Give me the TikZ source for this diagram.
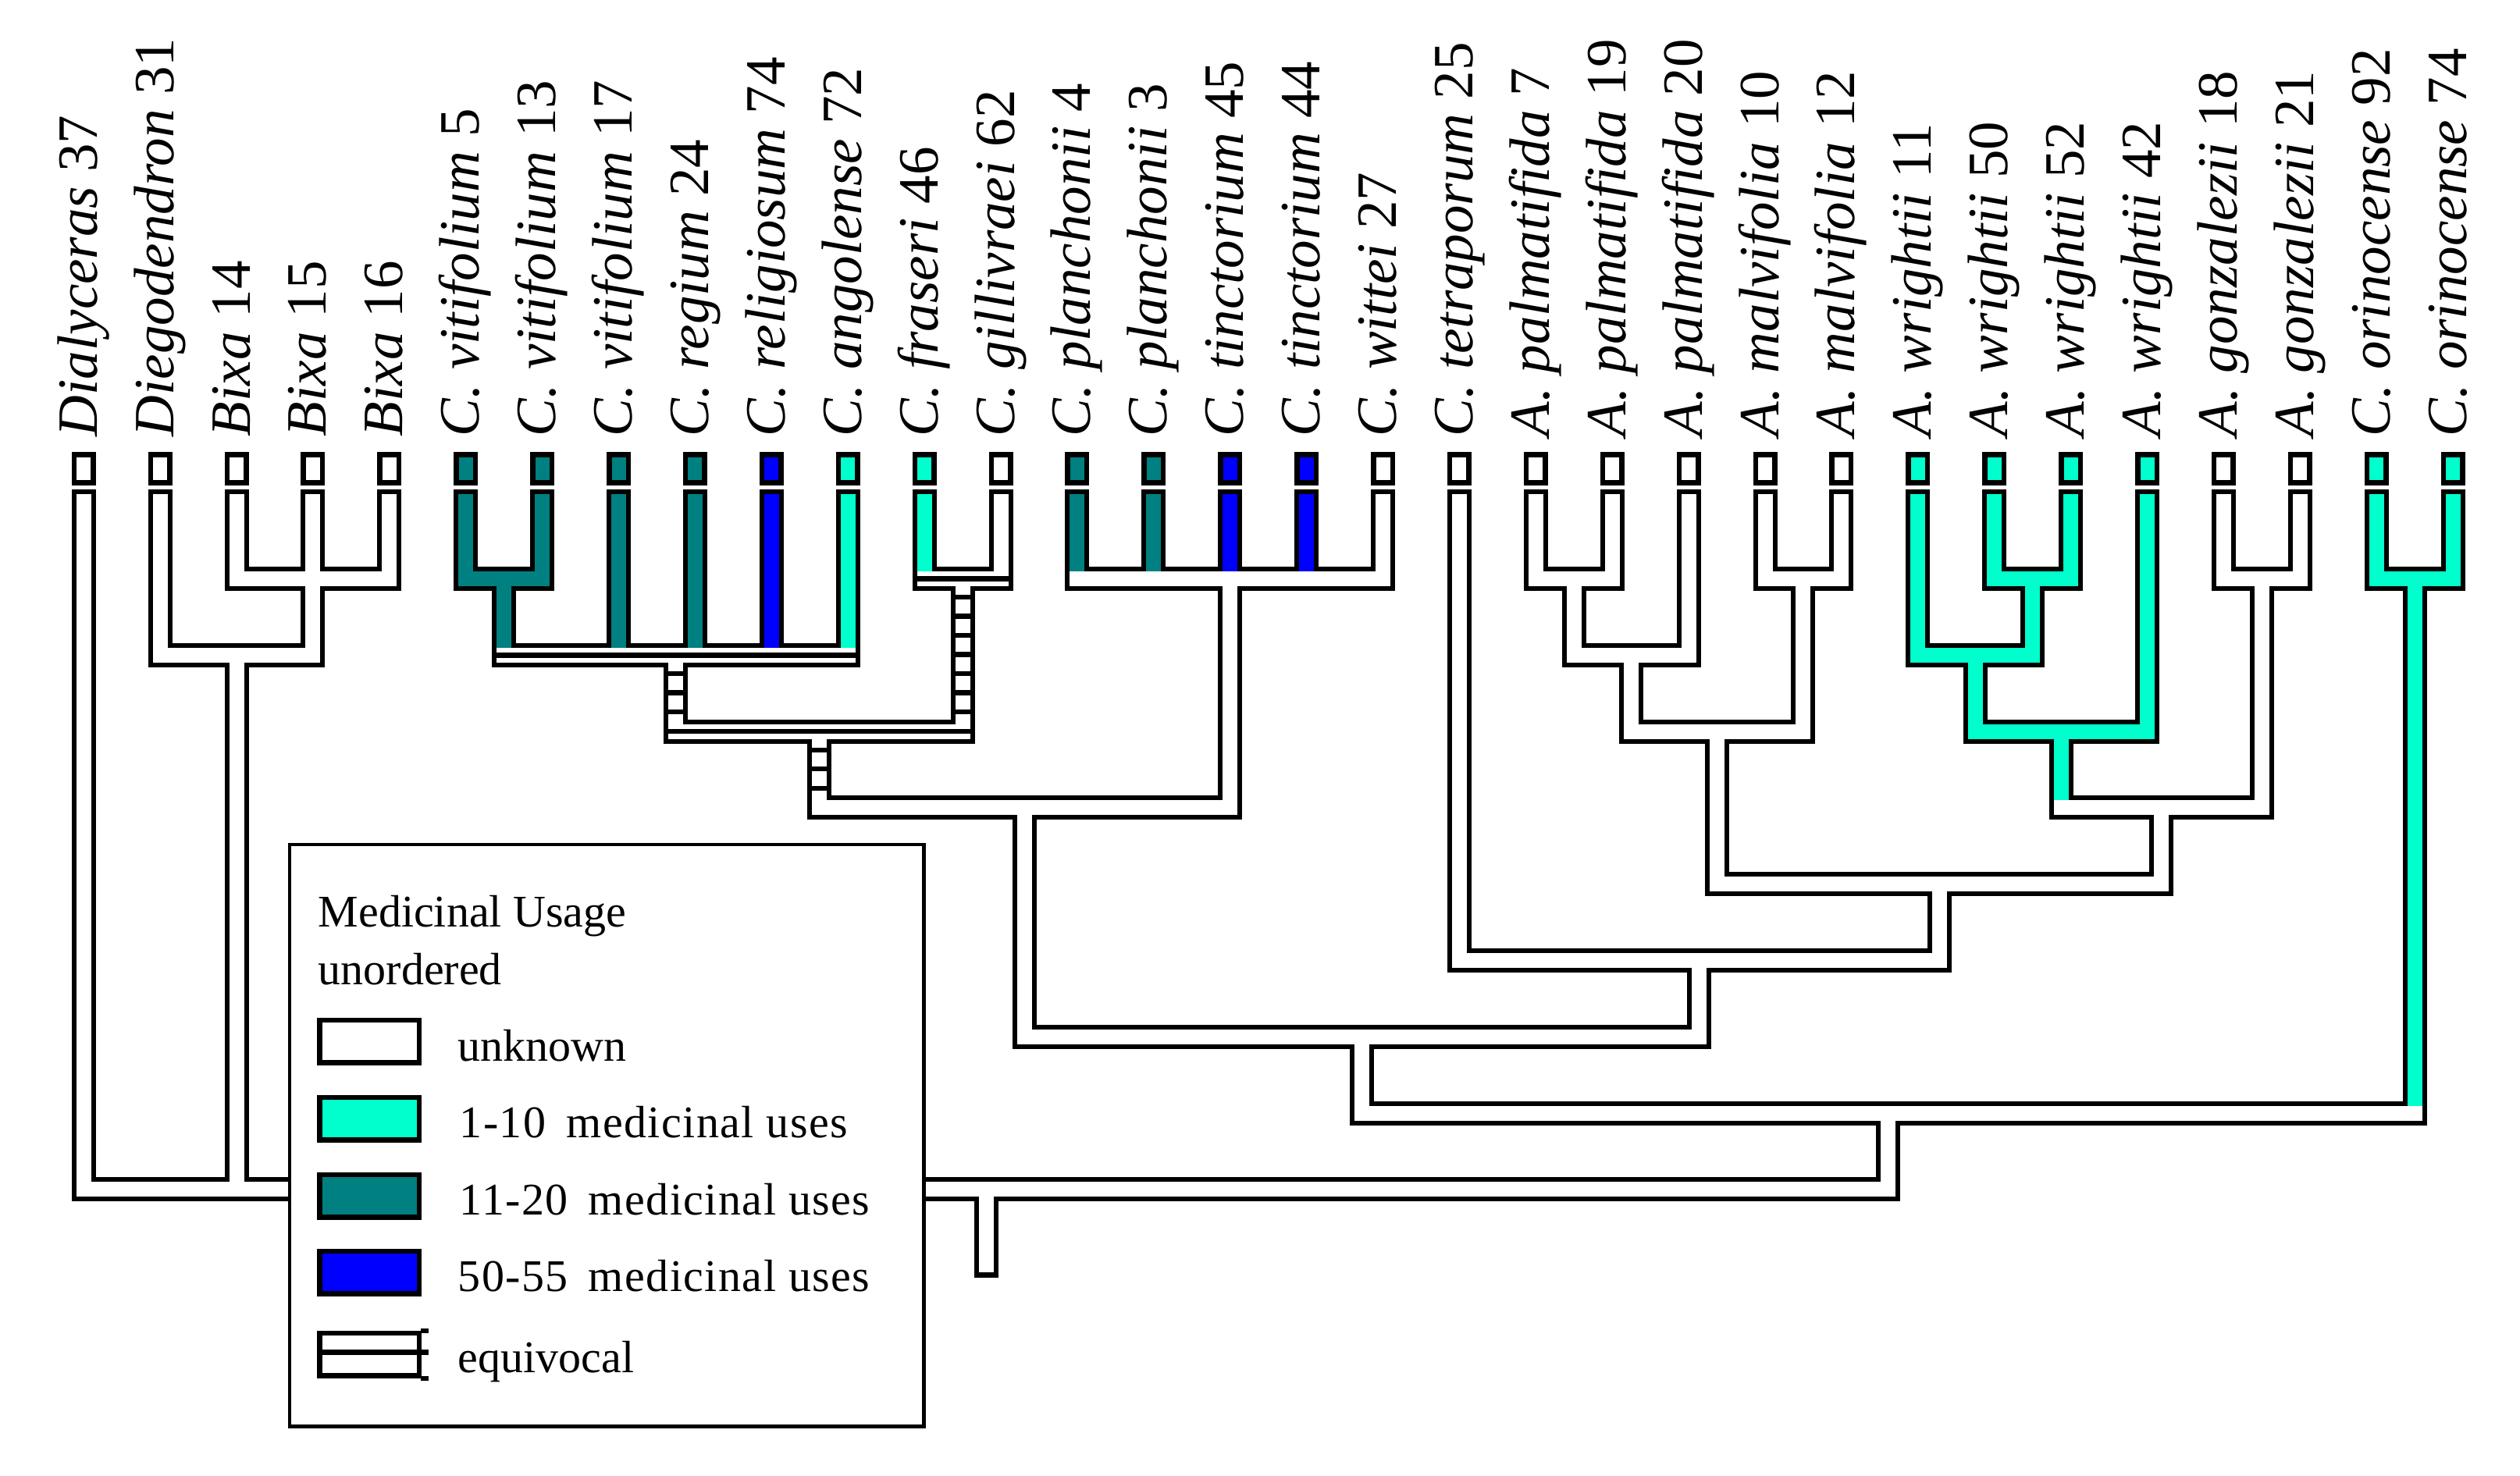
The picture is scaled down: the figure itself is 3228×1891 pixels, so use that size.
\documentclass[tikz,border=0pt]{standalone}
\usepackage{fontspec}
\setmainfont{Liberation Serif}
\newfontfamily\legspaced[LetterSpace=2.5]{Liberation Serif}
\usetikzlibrary{calc}
\definecolor{cyanx}{RGB}{0,255,204}
\definecolor{tealx}{RGB}{0,128,128}
\definecolor{bluex}{RGB}{0,0,255}
\begin{document}
\begin{tikzpicture}[x=0.25pt, y=-0.25pt,
  outv/.style={line width=7.75pt, line cap=butt, draw=black},
  outh/.style={line width=7.75pt, line cap=rect, draw=black},
  inv/.style={line width=4.75pt, line cap=butt},
  inh/.style={line width=4.75pt, line cap=rect},
  eqh/.style={line width=1.625pt, line cap=butt, draw=black},
  rungs/.style={line width=4.75pt, line cap=butt, draw=black, dash pattern=on 1.575pt off 4.55pt, dash phase=4.875pt},
  tipbox/.style={draw=black, line width=1.625pt, minimum width=6.125pt, minimum height=8.975pt, inner sep=0pt},
  taxon/.style={rotate=90, anchor=base west, inner sep=0pt, font=\fontsize{18.25}{20}\selectfont},
  legtext/.style={anchor=base west, inner sep=0pt, font=\fontsize{14.5}{17}\selectfont},
  swatch/.style={draw=black, line width=1.625pt, minimum width=31.875pt, minimum height=13.625pt, inner sep=0pt},
]
\useasboundingbox (0,0) rectangle (3228,1891);

% taxa: tip coordinates, tip boxes, labels
\foreach \i/\col/\nm/\nu in {
1/white/Dialyceras/37, 2/white/Diegodendron/31, 3/white/Bixa/14, 4/white/Bixa/15, 5/white/Bixa/16,
6/tealx/C. vitifolium/5, 7/tealx/C. vitifolium/13, 8/tealx/C. vitifolium/17, 9/tealx/C. regium/24,
10/bluex/C. religiosum/74, 11/cyanx/C. angolense/72, 12/cyanx/C. fraseri/46, 13/white/C. gillivraei/62,
14/tealx/C. planchonii/4, 15/tealx/C. planchonii/3, 16/bluex/C. tinctorium/45, 17/bluex/C. tinctorium/44,
18/white/C. wittei/27, 19/white/C. tetraporum/25, 20/white/A. palmatifida/7, 21/white/A. palmatifida/19,
22/white/A. palmatifida/20, 23/white/A. malvifolia/10, 24/white/A. malvifolia/12, 25/cyanx/A. wrightii/11,
26/cyanx/A. wrightii/50, 27/cyanx/A. wrightii/52, 28/cyanx/A. wrightii/42, 29/white/A. gonzalezii/18,
30/white/A. gonzalezii/21, 31/cyanx/C. orinocense/92, 32/cyanx/C. orinocense/74}
{
  \pgfmathsetmacro{\xx}{107.2+(\i-1)*97.9}
  \coordinate (t\i) at (\xx,626.7);
  \coordinate (ti\i) at (\xx,633);
  \node[tipbox, fill=\col] (b\i) at (\xx,600.5) {};
  \node[taxon] (l\i) at (\xx+17,560) {\textit{\nm} \nu};
}

% internal nodes (bar centres)
\coordinate (Bixa)  at (400.9,741.5);
\coordinate (DB)    at (303.0,839.3);
\coordinate (V513)  at (645.65,741.5);
\coordinate (Vpoly) at (865.93,839.3);
\coordinate (FG)    at (1233.05,741.5);
\coordinate (VFG)   at (1049.49,937.1);
\coordinate (P)     at (1575.7,741.5);
\coordinate (Cochlo) at (1312.6,1034.9);
\coordinate (P719)  at (2016.25,741.5);
\coordinate (Palm)  at (2089.68,839.3);
\coordinate (Malv)  at (2309.95,741.5);
\coordinate (PM)    at (2199.81,937.1);
\coordinate (W5052) at (2603.65,741.5);
\coordinate (W)     at (2530.23,839.3);
\coordinate (W42)   at (2640.36,937.1);
\coordinate (Gonz)  at (2897.35,741.5);
\coordinate (WG)    at (2768.86,1034.9);
\coordinate (Amor)  at (2484.33,1132.7);
\coordinate (TA)    at (2176.87,1230.5);
\coordinate (CA)    at (1744.73,1328.3);
\coordinate (Orin)  at (3093.15,741.5);
\coordinate (Big)   at (2418.94,1426.1);
\coordinate (Root)  at (1263.07,1523.9);
\coordinate (stub)  at (1263.07,1636.7);

% ---- black outer walls ----
\foreach \c/\p in {t1/Root,t2/DB,t3/Bixa,t4/Bixa,t5/Bixa,t6/V513,t7/V513,t8/Vpoly,t9/Vpoly,t10/Vpoly,t11/Vpoly,
  t12/FG,t13/FG,t14/P,t15/P,t16/P,t17/P,t18/P,t19/TA,t20/P719,t21/P719,t22/Palm,t23/Malv,t24/Malv,
  t25/W,t26/W5052,t27/W5052,t28/W42,t29/Gonz,t30/Gonz,t31/Orin,t32/Orin,
  Bixa/DB,DB/Root,V513/Vpoly,Vpoly/VFG,FG/VFG,VFG/Cochlo,P/Cochlo,Cochlo/CA,P719/Palm,Palm/PM,Malv/PM,
  PM/Amor,W5052/W,W/W42,W42/WG,Gonz/WG,WG/Amor,Amor/TA,TA/CA,CA/Big,Orin/Big,Big/Root}
  \draw[outv] (\c) -- (\c |- \p);
\draw[outv] (Root) -- (stub);
\foreach \n/\l/\r in {Bixa/t3/t5,DB/t2/Bixa,V513/t6/t7,Vpoly/V513/t11,FG/t12/t13,VFG/Vpoly/FG,P/t14/t18,
  Cochlo/VFG/P,P719/t20/t21,Palm/P719/t22,Malv/t23/t24,PM/Palm/Malv,W5052/t26/t27,W/t25/W5052,W42/W/t28,
  Gonz/t29/t30,WG/W42/Gonz,Amor/PM/WG,TA/t19/Amor,CA/Cochlo/TA,Orin/t31/t32,Big/CA/Orin,Root/t1/Big}
  \draw[outh] (\l |- \n) -- (\r |- \n);

% ---- inner fills: verticals ----
\foreach \c/\p/\col in {ti1/Root/white,ti2/DB/white,ti3/Bixa/white,ti4/Bixa/white,ti5/Bixa/white,
  ti6/V513/tealx,ti7/V513/tealx,ti8/Vpoly/tealx,ti9/Vpoly/tealx,ti10/Vpoly/bluex,ti11/Vpoly/cyanx,
  ti12/FG/cyanx,ti13/FG/white,ti14/P/tealx,ti15/P/tealx,ti16/P/bluex,ti17/P/bluex,ti18/P/white,
  ti19/TA/white,ti20/P719/white,ti21/P719/white,ti22/Palm/white,ti23/Malv/white,ti24/Malv/white,
  ti25/W/cyanx,ti26/W5052/cyanx,ti27/W5052/cyanx,ti28/W42/cyanx,ti29/Gonz/white,ti30/Gonz/white,
  ti31/Orin/cyanx,ti32/Orin/cyanx,
  Bixa/DB/white,DB/Root/white,V513/Vpoly/tealx,Vpoly/VFG/white,FG/VFG/white,VFG/Cochlo/white,
  P/Cochlo/white,Cochlo/CA/white,P719/Palm/white,Palm/PM/white,Malv/PM/white,PM/Amor/white,
  W5052/W/cyanx,W/W42/cyanx,W42/WG/cyanx,Gonz/WG/white,WG/Amor/white,Amor/TA/white,TA/CA/white,
  CA/Big/white,Orin/Big/cyanx,Big/Root/white}
  \draw[inv, draw=\col] (\c) -- (\c |- \p);
\draw[inv, draw=white] (Root) -- ($(stub)+(0,-6.3)$);

% ---- inner fills: bars ----
\foreach \n/\l/\r/\col in {Bixa/t3/t5/white,DB/t2/Bixa/white,V513/t6/t7/tealx,Vpoly/V513/t11/white,
  FG/t12/t13/white,VFG/Vpoly/FG/white,P/t14/t18/white,Cochlo/VFG/P/white,P719/t20/t21/white,
  Palm/P719/t22/white,Malv/t23/t24/white,PM/Palm/Malv/white,W5052/t26/t27/cyanx,W/t25/W5052/cyanx,
  W42/W/t28/cyanx,Gonz/t29/t30/white,WG/W42/Gonz/white,Amor/PM/WG/white,TA/t19/Amor/white,
  CA/Cochlo/TA/white,Orin/t31/t32/cyanx,Big/CA/Orin/white,Root/t1/Big/white}
  \draw[inh, draw=\col] (\l |- \n) -- (\r |- \n);

% ---- equivocal branches ----
\foreach \n/\l/\r in {Vpoly/V513/t11,FG/t12/t13,VFG/Vpoly/FG}
  \draw[eqh] ($(\l |- \n)+(-9.5,0)$) -- ($(\r |- \n)+(9.5,0)$);
\foreach \c/\p in {Vpoly/VFG,FG/VFG,VFG/Cochlo}
  \draw[rungs] ($(\c)+(0,15.5)$) -- ($(\c |- \p)+(0,-15.5)$);

% ---- legend ----
\node[draw=black, fill=white, line width=1.125pt, minimum width=203.125pt, minimum height=186.375pt, inner sep=0pt] (legend) at (777.25,1454.75) {};
\node[legtext] (lgtitle) at (407,1188) {Medicinal Usage};
\node[legtext] (lgsub) at (407,1262) {unordered};
\node[swatch, fill=white] (s1) at (473,1334.5) {};
\node[swatch, fill=cyanx] (s2) at (473,1433.5) {};
\node[swatch, fill=tealx] (s3) at (473,1532.25) {};
\node[swatch, fill=bluex] (s4) at (473,1630.5) {};
\node[swatch, fill=white] (s5) at (473,1735.35) {};
\draw[eqh] ($(s5.west)+(0,-3)$) -- ($(s5.east)+(9.25,-3)$);
\draw[eqh] ($(s5.north east)+(-1,0)$) -- ++(10.25,0);
\draw[eqh] ($(s5.south east)+(-1,0)$) -- ++(10.25,0);
\node[legtext] (lg1) at (586,1360) {unknown};
\node[legtext] (lg2) at (588,1458) {\legspaced 1-10\hspace{0.45em}medicinal uses};
\node[legtext] (lg3) at (588,1556.6) {\legspaced 11-20\hspace{0.45em}medicinal uses};
\node[legtext] (lg4) at (586,1654.6) {\legspaced 50-55\hspace{0.45em}medicinal uses};
\node[legtext] (lg5) at (586,1759) {equivocal};
\end{tikzpicture}
\end{document}
